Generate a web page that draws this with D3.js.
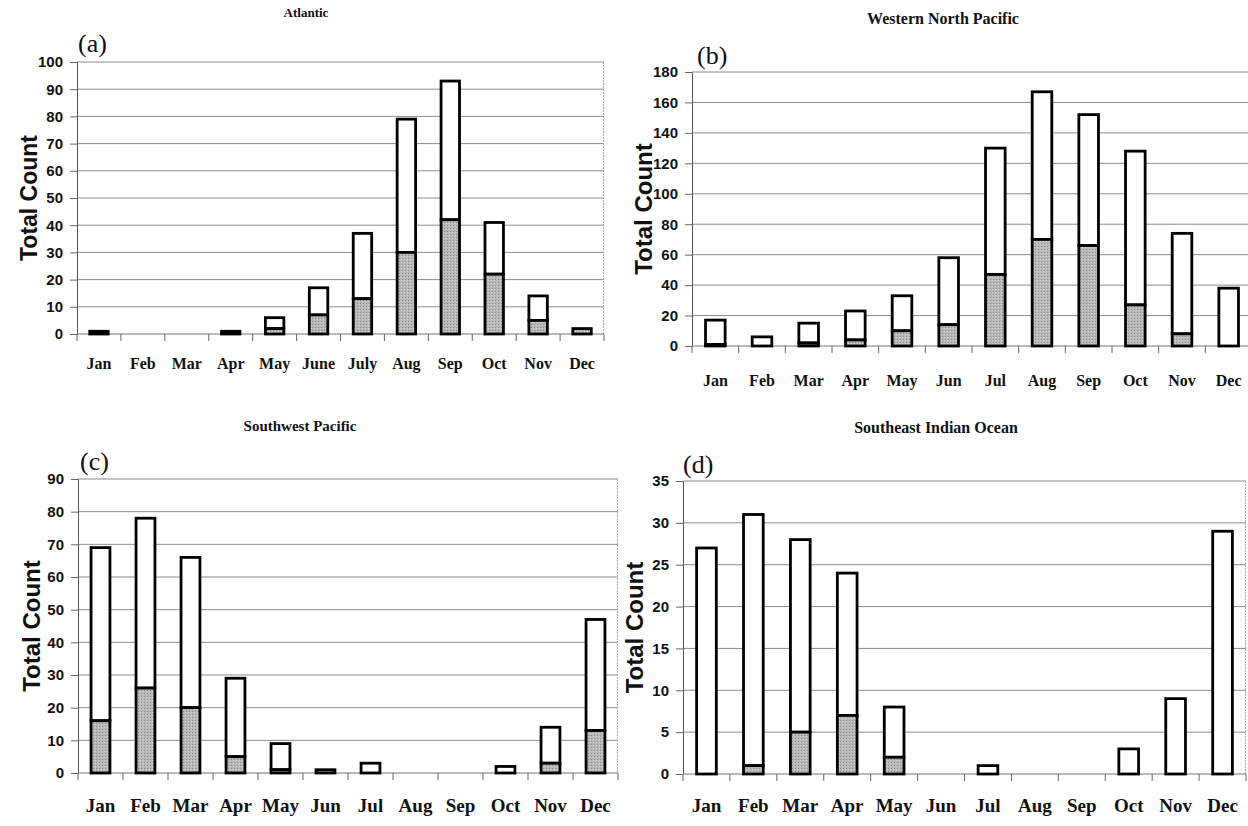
<!DOCTYPE html>
<html>
<head>
<meta charset="utf-8">
<script src="https://cdn.jsdelivr.net/npm/d3@7"></script>
<style>
  html, body { margin: 0; padding: 0; background: #fff; }
  svg { display: block; }
</style>
</head>
<body>
<svg id="chart" width="1248" height="826"></svg>
<script>
// ---- Data ----
const monthsA = ["Jan","Feb","Mar","Apr","May","June","July","Aug","Sep","Oct","Nov","Dec"];
const months  = ["Jan","Feb","Mar","Apr","May","Jun","Jul","Aug","Sep","Oct","Nov","Dec"];

// Atlantic (a)
const atlTotal = [1, 0, 0, 1, 6, 17, 37, 79, 93, 41, 14, 2];
const atlLower = [1, 0, 0, 1, 2, 7, 13, 30, 42, 22, 5, 2];
// Western North Pacific (b)
const wnpTotal = [17, 6, 15, 23, 33, 58, 130, 167, 152, 128, 74, 38];
const wnpLower = [1, 0, 2, 4, 10, 14, 47, 70, 66, 27, 8, 0];
// Southwest Pacific (c)
const swpTotal = [69, 78, 66, 29, 9, 1, 3, 0, 0, 2, 14, 47];
const swpLower = [16, 26, 20, 5, 1, 1, 0, 0, 0, 0, 3, 13];
// Southeast Indian Ocean (d)
const sioTotal = [27, 31, 28, 24, 8, 0, 1, 0, 0, 3, 9, 29];
const sioLower = [0, 1, 5, 7, 2, 0, 0, 0, 0, 0, 0, 0];

const yTicksA = [0,10,20,30,40,50,60,70,80,90,100];
const yTicksB = [0,20,40,60,80,100,120,140,160,180];
const yTicksC = [0,10,20,30,40,50,60,70,80,90];
const yTicksD = [0,5,10,15,20,25,30,35];

const titles = ["Atlantic", "Western North Pacific", "Southwest Pacific", "Southeast Indian Ocean"];
const letters = ["(a)", "(b)", "(c)", "(d)"];
const yTitle = "Total Count";

// ---- Layout ----
const panels = [
  { cats: monthsA, total: atlTotal, lower: atlLower, ticks: yTicksA,
    left: 77, right: 604, top: 62, bottom: 334,
    titleX: 306, titleY: 17, titleSize: 13,
    letterX: 78, letterY: 52, labelX: 29, labelSize: 23, monthY: 369, monthSize: 16 },
  { cats: months, total: wnpTotal, lower: wnpLower, ticks: yTicksB,
    left: 692, right: 1252, top: 72, bottom: 346,
    titleX: 943, titleY: 24, titleSize: 16,
    letterX: 697, letterY: 64, labelX: 643, labelSize: 24, monthY: 386, monthSize: 16 },
  { cats: months, total: swpTotal, lower: swpLower, ticks: yTicksC,
    left: 78, right: 618, top: 479, bottom: 773,
    titleX: 300, titleY: 431, titleSize: 15,
    letterX: 80, letterY: 470, labelX: 31, labelSize: 24, monthY: 812, monthSize: 19 },
  { cats: months, total: sioTotal, lower: sioLower, ticks: yTicksD,
    left: 683, right: 1246, top: 481, bottom: 774,
    titleX: 936, titleY: 433, titleSize: 16,
    letterX: 683, letterY: 473, labelX: 634, labelSize: 24, monthY: 812, monthSize: 19 }
];

const svg = d3.select("#chart");
svg.append("rect").attr("width", 1248).attr("height", 826).attr("fill", "#fff");

// stipple pattern for the lower segment
const defs = svg.append("defs");
const pat = defs.append("pattern").attr("id", "stip").attr("patternUnits", "userSpaceOnUse")
  .attr("width", 3).attr("height", 3);
pat.append("rect").attr("width", 3).attr("height", 3).attr("fill", "#b8b8b8");
pat.append("rect").attr("x", 0).attr("y", 0).attr("width", 1).attr("height", 1).attr("fill", "#8a8a8a");
pat.append("rect").attr("x", 2).attr("y", 1).attr("width", 1).attr("height", 1).attr("fill", "#d2d2d2");

panels.forEach((p, i) => {
  const g = svg.append("g");
  const x = d3.scaleBand().domain(p.cats).range([p.left, p.right]).paddingInner(0.58).paddingOuter(0.29);
  const xb = d3.scaleBand().domain(p.cats).range([p.left, p.right]).padding(0);
  const yMax = p.ticks[p.ticks.length - 1];
  const y = d3.scaleLinear().domain([0, yMax]).range([p.bottom, p.top]);

  // gridlines
  g.append("g").selectAll("line").data(p.ticks.filter(t => t > 0)).join("line")
    .attr("x1", p.left).attr("x2", p.right)
    .attr("y1", d => y(d)).attr("y2", d => y(d))
    .attr("stroke", "#8c8c8c").attr("stroke-width", 1);
  // right border
  g.append("line").attr("x1", p.right - 0.5).attr("x2", p.right - 0.5)
    .attr("y1", p.top).attr("y2", p.bottom)
    .attr("stroke", "#aaa").attr("stroke-width", 1).attr("stroke-dasharray", "2,1");

  // y axis
  const yAxis = d3.axisLeft(y).tickValues(p.ticks).tickSize(7).tickPadding(7).tickFormat(d3.format("d"));
  const ya = g.append("g").attr("transform", `translate(${p.left},0)`).call(yAxis);
  ya.select(".domain").attr("stroke", "#555");
  ya.selectAll(".tick line").attr("stroke", "#666");
  ya.selectAll("text").attr("font-family", "Liberation Sans, Arial, sans-serif")
    .attr("font-weight", "bold").attr("font-size", 15).attr("fill", "#111");

  // x axis (ticks at category boundaries)
  const bounds = p.cats.map(c => xb(c)).concat([p.right]);
  g.append("line").attr("x1", p.left).attr("x2", p.right).attr("y1", p.bottom).attr("y2", p.bottom)
    .attr("stroke", "#777").attr("stroke-width", 1);
  g.append("g").selectAll("line").data(bounds).join("line")
    .attr("x1", d => d).attr("x2", d => d)
    .attr("y1", p.bottom).attr("y2", p.bottom + 7)
    .attr("stroke", "#666").attr("stroke-width", 1);
  g.append("g").selectAll("text").data(p.cats).join("text")
    .attr("x", d => xb(d) + xb.bandwidth() / 2).attr("y", p.monthY)
    .attr("text-anchor", "middle")
    .attr("font-family", "Liberation Serif, Times New Roman, serif")
    .attr("font-weight", "bold").attr("font-size", p.monthSize).attr("fill", "#111")
    .text(d => d);

  // bars
  const rows = p.cats.map((c, k) => ({ c, total: p.total[k], lower: p.lower[k] }));
  const bars = g.append("g");
  bars.selectAll("rect.upper").data(rows.filter(r => r.total > r.lower)).join("rect")
    .attr("class", "upper")
    .attr("x", r => x(r.c)).attr("width", x.bandwidth())
    .attr("y", r => y(r.total)).attr("height", r => y(r.lower) - y(r.total))
    .attr("fill", "#fff").attr("stroke", "#000").attr("stroke-width", 2.8);
  bars.selectAll("rect.lower").data(rows.filter(r => r.lower > 0)).join("rect")
    .attr("class", "lower")
    .attr("x", r => x(r.c)).attr("width", x.bandwidth())
    .attr("y", r => y(r.lower)).attr("height", r => y(0) - y(r.lower))
    .attr("fill", "url(#stip)").attr("stroke", "#000").attr("stroke-width", 2.8);

  // titles
  svg.append("text").attr("x", p.titleX).attr("y", p.titleY).attr("text-anchor", "middle")
    .attr("font-family", "Liberation Serif, Times New Roman, serif").attr("font-weight", "bold")
    .attr("font-size", p.titleSize).attr("fill", "#111").text(titles[i]);
  svg.append("text").attr("x", p.letterX).attr("y", p.letterY)
    .attr("font-family", "Liberation Serif, Times New Roman, serif")
    .attr("font-size", 26).attr("fill", "#111").text(letters[i]);
  svg.append("text")
    .attr("transform", `translate(${p.labelX},${(p.top + p.bottom) / 2}) rotate(-90)`)
    .attr("text-anchor", "middle").attr("dominant-baseline", "central")
    .attr("font-family", "Liberation Sans, Arial, sans-serif").attr("font-weight", "bold")
    .attr("font-size", p.labelSize).attr("fill", "#111").text(yTitle);
});
</script>
</body>
</html>
